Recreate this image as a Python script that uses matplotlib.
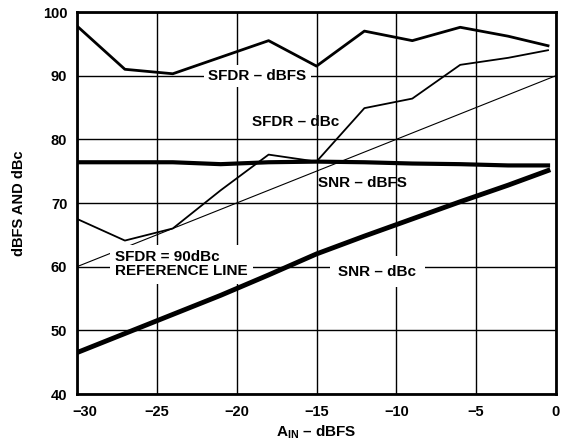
import numpy as np
import matplotlib
matplotlib.use('Agg')
import matplotlib.pyplot as plt
import matplotlib.transforms as mtransforms

plt.rcParams['font.family'] = ['Liberation Sans', 'DejaVu Sans']
plt.rcParams['font.weight'] = 'bold'
plt.rcParams['mathtext.fontset'] = 'custom'
plt.rcParams['mathtext.rm'] = 'Liberation Sans:bold'
plt.rcParams['mathtext.bf'] = 'Liberation Sans:bold'

# data
ain = [-30, -27, -24, -21, -18, -15, -12, -9, -6, -3, -0.5]
sfdr_dbfs = [97.8, 91.0, 90.3, 92.9, 95.5, 91.5, 97.0, 95.5, 97.6, 96.2, 94.7]
sfdr_dbc = [67.5, 64.1, 66.0, 72.0, 77.6, 76.5, 84.9, 86.4, 91.7, 92.8, 94.0]
snr_dbfs = [76.4, 76.4, 76.4, 76.1, 76.4, 76.5, 76.4, 76.2, 76.1, 75.9, 75.9]
snr_dbc = [46.5, 49.5, 52.5, 55.5, 58.7, 62.0, 64.8, 67.5, 70.2, 72.8, 75.1]
ref_x = [-30, 0]
ref_y = [60, 90]
xticks = [-30, -25, -20, -15, -10, -5, 0]
xlabels = ['\u221230', '\u221225', '\u221220', '\u221215', '\u221210', '\u22125', '0']
yticks = [40, 50, 60, 70, 80, 90, 100]

fig = plt.figure(figsize=(5.63, 4.41), dpi=100)
ax = fig.add_axes([77/563, 1 - 394/441, (556-77)/563, (394-12)/441])

ax.plot(ref_x, ref_y, color='black', lw=0.8)
ax.plot(ain, sfdr_dbc, color='black', lw=1.3)
ax.plot(ain, sfdr_dbfs, color='black', lw=2.0)
ax.plot(ain, snr_dbfs, color='black', lw=3.0)
ax.plot(ain, snr_dbc, color='black', lw=3.5, zorder=6)

ax.set_xlim(-30, 0)
ax.set_ylim(40, 100)
ax.set_xticks(xticks)
ax.set_xticklabels(xlabels)
ax.set_yticks(yticks)
ax.tick_params(length=0, labelsize=10.5)
ax.tick_params(axis='x', pad=8)
ax.tick_params(axis='y', pad=7)
ax.grid(True, color='black', lw=1.0)
ax.set_axisbelow(True)
for s in ax.spines.values():
    s.set_linewidth(2)

# first x label sits a bit to the right in the original
lab0 = ax.get_xticklabels()[0]
lab0.set_transform(lab0.get_transform() + mtransforms.ScaledTranslation(8/100, 0, fig.dpi_scale_trans))

fs = 11
box = dict(facecolor='white', edgecolor='none', pad=3)
ax.text(-18.7, 90, 'SFDR \u2013 dBFS', ha='center', va='center',
        fontsize=fs, fontweight='bold', bbox=box, zorder=5)
ax.text(-16.3, 82.7, 'SFDR \u2013 dBc', ha='center', va='center',
        fontsize=fs, fontweight='bold', zorder=5)
ax.text(-12.1, 73.2, 'SNR \u2013 dBFS', ha='center', va='center',
        fontsize=fs, fontweight='bold', zorder=5)
ax.text(-27.6, 60.4, 'SFDR = 90dBc\nREFERENCE LINE', ha='left', va='center',
        linespacing=1.0, fontsize=fs, fontweight='bold', zorder=5,
        bbox=dict(facecolor='white', edgecolor='none', pad=4))
ax.text(-11.2, 59.2, 'SNR \u2013 dBc', ha='center', va='center',
        fontsize=fs, fontweight='bold', zorder=5,
        bbox=dict(facecolor='white', edgecolor='none', pad=6))

ax.set_xlabel('A$_{\\mathrm{IN}}$ \u2013 dBFS', fontsize=11, fontweight='bold', labelpad=3)
ax.set_ylabel('dBFS AND dBc', fontsize=10.5, fontweight='bold', labelpad=12)

fig.savefig('out.png', dpi=100)
